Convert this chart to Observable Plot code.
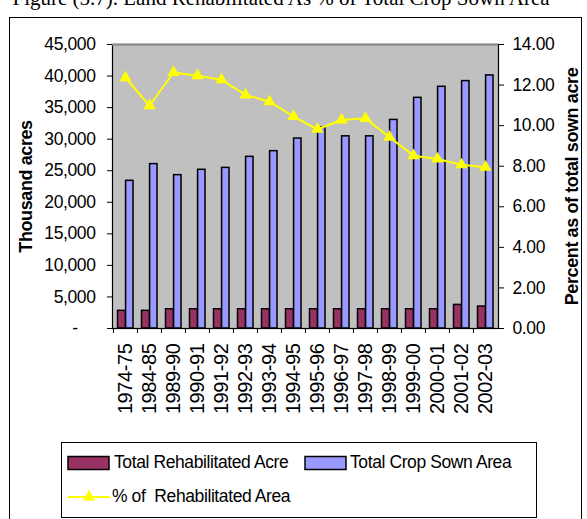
<!DOCTYPE html>
<html>
<head>
<meta charset="utf-8">
<script src="https://cdn.jsdelivr.net/npm/d3@7"></script>
<script src="https://cdn.jsdelivr.net/npm/@observablehq/plot@0.6"></script>
<style>
  html, body { margin: 0; padding: 0; background: #fff; }
  #wrap { position: relative; width: 587px; height: 519px; overflow: hidden; background: #fff; font-family: "Liberation Sans", Arial, sans-serif; }
  #outer { position: absolute; left: 9px; top: 17px; width: 573px; height: 540px; border: 1.5px solid #000; box-sizing: border-box; }
  #title { position: absolute; left: 0; top: -12px; width: 562px; text-align: center; font-family: "Liberation Serif", "Times New Roman", serif; font-size: 21px; line-height: 21px; white-space: nowrap; color: #000; }
  #chart { position: absolute; left: 0; top: 0; }
  #legend { position: absolute; left: 61px; top: 442px; width: 476px; height: 76px; border: 1px solid #000; box-sizing: border-box; background: #fff; }
  .lg { position: absolute; font-size: 17.5px; letter-spacing: -0.4px; line-height: 20px; white-space: nowrap; color: #000; }
  .sw { position: absolute; }
</style>
</head>
<body>
<div id="wrap">
  <div id="outer"></div>
  <div id="title">Figure (5.7). Land Rehabilitated As % of Total Crop Sown Area</div>
  <div id="chart"></div>
  <div id="legend"></div>
</div>
<script>
const categories = ["1974-75","1984-85","1989-90","1990-91","1991-92","1992-93","1993-94","1994-95","1995-96","1996-97","1997-98","1998-99","1999-00","2000-01","2001-02","2002-03"];
const rehabilitated = [2800, 2800, 3050, 3050, 3050, 3050, 3050, 3050, 3050, 3050, 3050, 3050, 3050, 3050, 3740, 3480];
const cropSown = [23400, 26050, 24300, 25150, 25450, 27200, 28100, 30100, 31850, 30450, 30450, 33050, 36550, 38300, 39200, 40100];
const pctRehab = [12.37, 10.98, 12.62, 12.46, 12.26, 11.52, 11.18, 10.45, 9.82, 10.28, 10.36, 9.43, 8.52, 8.36, 8.07, 7.95];
const leftTicks = [0, 5000, 10000, 15000, 20000, 25000, 30000, 35000, 40000, 45000];
const rightTicks = [0, 2, 4, 6, 8, 10, 12, 14];
const seriesNames = ["Total Rehabilitated Acre", "Total Crop Sown Area", "% of\u00A0\u00A0Rehabilitated Area"];
const axisTitles = ["Thousand acres", "Percent as of total sown acre"];
const colors = { rehab: "#993366", sown: "#9999FF", pct: "#FFFF00", plotBg: "#C0C0C0" };

const Y_MAX = 45000, P_MAX = 14, K = Y_MAX / P_MAX;
const rows = categories.map((c, i) => ({ cat: c, rehab: rehabilitated[i], sown: cropSown[i], pct: pctRehab[i] }));

const W = 587, H = 430, ML = 112, MR = 89, MT = 44, MB = 102;
const bw = (W - ML - MR) / categories.length;
const fmt = d3.format(",");

const chart = Plot.plot({
  width: W, height: H,
  marginLeft: ML, marginRight: MR, marginTop: MT, marginBottom: MB,
  style: { fontFamily: "'Liberation Sans', Arial, sans-serif", fontSize: "17.5px", letterSpacing: "-0.4px", color: "#000", background: "transparent", overflow: "visible" },
  x: { type: "band", domain: categories, paddingInner: 0, paddingOuter: 0 },
  y: { domain: [0, Y_MAX] },
  marks: [
    Plot.frame({ fill: colors.plotBg, stroke: null }),
    Plot.barY(rows, { x: "cat", y: "rehab", fill: colors.rehab, stroke: "#000", strokeWidth: 1.5, insetLeft: 4.5, insetRight: bw - 12.6 }),
    Plot.barY(rows, { x: "cat", y: "sown", fill: colors.sown, stroke: "#000", strokeWidth: 1.5, insetLeft: 12.6, insetRight: 4 }),
    Plot.line(rows, { x: "cat", y: d => d.pct * K, stroke: colors.pct, strokeWidth: 2 }),
    Plot.dot(rows, { x: "cat", y: d => d.pct * K, symbol: "triangle", r: 4.6, fill: colors.pct, stroke: "none" }),
    Plot.frame({ stroke: "#000", strokeWidth: 1.2, fill: "none" }),
    Plot.ruleY([Y_MAX], { stroke: "#8a8a8a", strokeWidth: 2 }),
    Plot.axisY(leftTicks, { anchor: "left", tickSize: 5, tickPadding: 12, tickFormat: d => d === 0 ? "-\u00A0\u00A0\u00A0\u00A0" : fmt(d), label: null }),
    Plot.axisY(rightTicks.map(p => p * K), { anchor: "right", tickSize: 5, tickPadding: 9, tickFormat: d => (d / K).toFixed(2), label: null }),
    Plot.axisX({ tickSize: 0, tickPadding: 15, tickRotate: -90, fontSize: 20, label: null }),
    Plot.axisX({ tickSize: 5, tickFormat: () => "", dx: -bw / 2, label: null }),
    Plot.text([axisTitles[0]], { frameAnchor: "left", dx: -86, rotate: -90, textAnchor: "middle", fontWeight: "bold", fontSize: 18, letterSpacing: 0 }),
    Plot.text([axisTitles[1]], { frameAnchor: "right", dx: 74, rotate: -90, textAnchor: "middle", fontWeight: "bold", fontSize: 18, letterSpacing: 0 })
  ]
});
document.getElementById("chart").appendChild(chart);

// legend
const lg = document.getElementById("legend");
const ox = 61, oy = 442;
function addSwatch(x, y, fill) {
  const s = document.createElementNS("http://www.w3.org/2000/svg", "svg");
  s.setAttribute("width", 44); s.setAttribute("height", 16);
  s.setAttribute("class", "sw");
  s.style.left = (x - ox - 1) + "px"; s.style.top = (y - oy - 8) + "px";
  s.innerHTML = `<rect x="1" y="1.5" width="41" height="13" fill="${fill}" stroke="#000" stroke-width="1.5"/>`;
  lg.appendChild(s);
}
function addText(x, y, t) {
  const d = document.createElement("div");
  d.className = "lg"; d.textContent = t;
  d.style.left = (x - ox - 1) + "px"; d.style.top = (y - oy - 11) + "px";
  lg.appendChild(d);
}
addSwatch(67, 462, colors.rehab); addText(114, 462, seriesNames[0]);
addSwatch(304, 462, colors.sown); addText(350, 462, seriesNames[1]);
{
  const s = document.createElementNS("http://www.w3.org/2000/svg", "svg");
  s.setAttribute("width", 44); s.setAttribute("height", 16);
  s.setAttribute("class", "sw");
  s.style.left = (67 - ox - 1) + "px"; s.style.top = (496 - oy - 8) + "px";
  const tri = d3.symbol(d3.symbolTriangle, Math.PI * 4.6 * 4.6)();
  s.innerHTML = `<line x1="1" x2="43" y1="8" y2="8" stroke="${colors.pct}" stroke-width="2"/><path d="${tri}" transform="translate(22,8)" fill="${colors.pct}"/>`;
  lg.appendChild(s);
}
addText(112, 496, seriesNames[2]);
</script>
</body>
</html>
